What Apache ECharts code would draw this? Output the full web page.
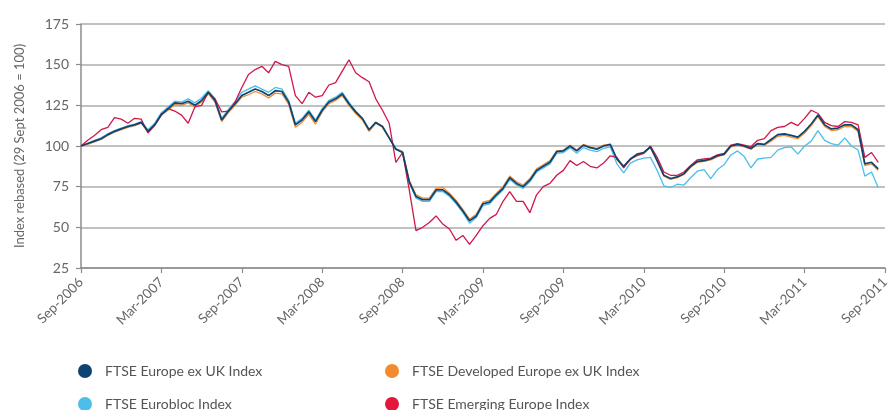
<!DOCTYPE html>
<html>
<head>
<meta charset="utf-8">
<script src="https://cdn.jsdelivr.net/npm/echarts@6/dist/echarts.min.js"></script>
<style>
html,body{margin:0;padding:0;background:#fff;}
#chart{width:892px;height:410px;}
</style>
</head>
<body>
<div id="chart"></div>
<script>
// x positions: months since Sep-2006, sampled every half month
const tickLabels = ['Sep-2006','Mar-2007','Sep-2007','Mar-2008','Sep-2008','Mar-2009','Sep-2009','Mar-2010','Sep-2010','Mar-2011','Sep-2011'];
const yTicks = [25, 50, 75, 100, 125, 150, 175];
const seriesNames = ['FTSE Europe ex UK Index','FTSE Developed Europe ex UK Index','FTSE Eurobloc Index','FTSE Emerging Europe Index'];

const europeExUK = [100,101.5,103,104.5,107,109,110.5,112,113,114.5,109,113,119.5,123,126.5,126,127.5,125,128,133,
128,116,121.5,126,131,133,135,133.5,131,134,133.5,127,113,116,121,115,122,127,129,132,
126,121,117,110,114.5,112,105,98,96,78,69,67,67,73,73,70,65.5,60,54,57,
64.5,65.5,70,74,80.5,77,75,79,85,87.5,90,96.5,97,100,97,100.5,99,98,100,101,
92,87.5,92,95,96,99.5,91,82,80,81,83,87.5,90.5,91,92,94,95,100,101,100,
98.5,101.5,101,104,107,107.5,106.5,105.5,109,113.5,119,113,110.5,111,113,113,110,89,90,86];

const devEuropeExUK = [100,101,102.5,104,106.5,108.5,110,111.5,112.5,114,108.5,112.5,119,122,125.5,125,126.5,124,127,132,
127,115,120.5,125,130,131.5,133.5,132,129.5,132.5,132,125.5,111.5,114.5,119.5,113.5,121,126,128,131,
125,120,116,109,114,111.5,105,98,96.5,79,70,68,68,74,74.5,71,66.5,61,55,58,
65.5,66.5,71,75,81.5,78,76,80,86,88.5,91,97,97.5,100.5,97.5,101,99.5,98.5,100.5,101,
91.5,87,91.5,94.5,95.5,99,90.5,81.5,79.5,80.5,82.5,87,90,90.5,91.5,93.5,94.5,99.5,100.5,99.5,
98,101,100.5,103,106,106.5,105.5,104.5,108,112.5,118,112,109.5,110,112,112,109,88,89,85];

const eurobloc = [100,101.5,103.5,105,107.5,109.5,111,112.5,113.5,115,110,114,120.5,124,127.5,127,129,126.5,129.5,134,
129,117,122.5,127.5,133,135,137,135,133,136,135,128,114,117,122,116,123,128,130,133,
127,121.5,117,110,114.5,112,105,98.5,96.5,77.5,68,66,66,72,72,69,64.5,59,52.5,56,
63.5,64.5,69,73,79.5,76,74,78,84,86.5,89,95.5,96,99,95.5,99,97.5,96.5,98.5,99.5,
89,83.5,89.5,91.5,92.5,93,85,75.5,74.5,76.5,76,80.5,84.5,85.5,80,85.5,88.5,94.5,97,93.5,
86.5,92,92.5,93,97.5,99,99.5,95,100,103,109.5,103.5,101.5,100.5,105,100,97.5,81.5,84,74.5];

const emergingEurope = [100,103.5,106.5,110,111.5,117.5,116.5,114,117,116.5,108,113,119,123,121.5,119,114,124,125,133,
129,121,121.5,127,136,144,147,149,145,152,150,149,131,126,133,130,131,137.5,139,146,
153,145,142,139.5,129,122,114,90,96,73,48,50,53,57,52,49,42,45,39.5,45,
51,55.5,58,66,72,66,66,59,70,75,77,82,85,91,88,90.5,87.5,86.5,89.5,94,
93,86.5,92,94,95.5,100,93,84,82,82,84,88,91.5,92,92.5,94.5,95.5,100.5,101.5,100.5,
99.5,103.5,104.5,109.5,111.5,112,114.5,112.5,117,122,120,114.5,112.5,112,115,114.5,113,93,96,90];

const monthPos = europeExUK.map((_, i) => i / 2);

const colors = {
  'FTSE Europe ex UK Index': '#0d4373',
  'FTSE Developed Europe ex UK Index': '#f28a2e',
  'FTSE Eurobloc Index': '#4dbde9',
  'FTSE Emerging Europe Index': '#d11749'
};
const legendColors = {
  'FTSE Europe ex UK Index': '#0d4373',
  'FTSE Developed Europe ex UK Index': '#f28a2e',
  'FTSE Eurobloc Index': '#4dbde9',
  'FTSE Emerging Europe Index': '#e3173e'
};

function pairs(vals){ return vals.map((v, i) => [monthPos[i], v]); }

const font = 'Lato, "Open Sans", sans-serif';
const chart = echarts.init(document.getElementById('chart'), null, {renderer: 'canvas'});

function mkLegend(name, left, top){
  return {
    data: [{name: name, itemStyle: {color: legendColors[name]}}],
    left: left, top: top, padding: 0,
    icon: 'circle', itemWidth: 14, itemHeight: 14,
    selectedMode: false,
    textStyle: {fontFamily: font, fontSize: 14, color: '#555', padding: [0,0,0,8]}
  };
}

const order = [
  ['FTSE Eurobloc Index', eurobloc, 1.3],
  ['FTSE Developed Europe ex UK Index', devEuropeExUK, 1.3],
  ['FTSE Emerging Europe Index', emergingEurope, 1.3],
  ['FTSE Europe ex UK Index', europeExUK, 1.7]
];

chart.setOption({
  animation: false,
  backgroundColor: '#fff',
  grid: {left: 81, top: 24, right: -4, bottom: 142, containLabel: false},
  legend: [
    mkLegend(seriesNames[0], 78, 364),
    mkLegend(seriesNames[1], 385, 364),
    mkLegend(seriesNames[2], 78, 397),
    mkLegend(seriesNames[3], 385, 397)
  ],
  xAxis: {
    type: 'value', min: 0, max: 60, interval: 6,
    axisLine: {show: true, lineStyle: {color: '#8c8c8c', width: 1.5}},
    axisTick: {show: true, length: 5, lineStyle: {color: '#8c8c8c', width: 1.2}},
    splitLine: {show: false},
    axisLabel: {
      rotate: 45, margin: 12, fontFamily: font, fontSize: 13.5, color: '#666',
      showMaxLabel: true, showMinLabel: true,
      formatter: v => tickLabels[Math.round(v / 6)] || ''
    }
  },
  yAxis: {
    type: 'value', min: yTicks[0], max: yTicks[yTicks.length - 1], interval: 25,
    name: 'Index rebased (29 Sept 2006 = 100)',
    nameLocation: 'middle', nameGap: 55,
    nameTextStyle: {fontFamily: font, fontSize: 13, color: '#666'},
    axisLine: {show: true, lineStyle: {color: '#8c8c8c', width: 1.5}},
    axisTick: {show: true, length: 5, lineStyle: {color: '#8c8c8c', width: 1.2}},
    splitLine: {show: true, lineStyle: {color: '#adadad', width: 1.5}},
    axisLabel: {fontFamily: font, fontSize: 14, color: '#666', margin: 12}
  },
  series: order.map(([name, vals, w]) => ({
    name: name, type: 'line', data: pairs(vals),
    showSymbol: false, symbol: 'none',
    color: colors[name],
    lineStyle: {color: colors[name], width: w},
    emphasis: {disabled: true}
  }))
});
</script>
</body>
</html>
